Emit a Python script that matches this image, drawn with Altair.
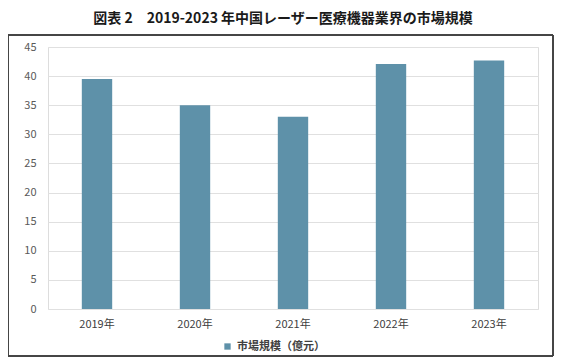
import altair as alt
import pandas as pd

years = ["2019年", "2020年", "2021年", "2022年", "2023年"]
values = [39.5, 35.0, 33.0, 42.1, 42.7]
series = ["市場規模（億元）"] * 5
y_ticks = [0, 5, 10, 15, 20, 25, 30, 35, 40, 45]

df = pd.DataFrame({"year": years, "value": values, "series": series})

FONT = "Noto Sans CJK JP"

bars = alt.Chart(df).mark_bar(color="#5E91A9").encode(
    x=alt.X("year:N", sort=years, title=None,
            scale=alt.Scale(paddingInner=0.69, paddingOuter=0.345),
            axis=alt.Axis(labelAngle=0, domain=False, ticks=False, labelPadding=9,
                          labelFont=FONT, labelFontSize=11, labelColor="#404040")),
    y=alt.Y("value:Q", title=None,
            scale=alt.Scale(domain=[0, 45], nice=False),
            axis=alt.Axis(values=y_ticks, domain=False, ticks=False, labelPadding=12,
                          gridColor="#E0E0E0", labelFont=FONT, labelFontSize=11,
                          labelColor="#595959")),
    color=alt.Color("series:N", title=None,
                    scale=alt.Scale(range=["#5E91A9"]),
                    legend=alt.Legend(orient="none", legendX=174, legendY=294,
                                      symbolType="square", symbolSize=40,
                                      labelFont=FONT, labelFontSize=11,
                                      labelFontWeight="bold",
                                      labelColor="#404040")),
)

frame = alt.Chart(df).mark_rect(fill=None, stroke="#404040", strokeWidth=1).encode(
    x=alt.value(-40), x2=alt.value(505), y=alt.value(-12), y2=alt.value(309)
)

chart = alt.layer(frame, bars).properties(
    width=490, height=262,
    title=alt.TitleParams("図表 2　2019-2023 年中国レーザー医療機器業界の市場規模",
                          font=FONT, fontSize=14, fontWeight="bold", color="#1a1a1a",
                          anchor="middle", dx=-10, offset=9),
    autosize=alt.AutoSizeParams(type="none"),
    padding={"left": 40, "top": 39, "right": 18, "bottom": 52},
).configure_view(stroke=None).configure(background="white")

chart.save("out.html", embed_options={"renderer": "svg", "actions": False})
